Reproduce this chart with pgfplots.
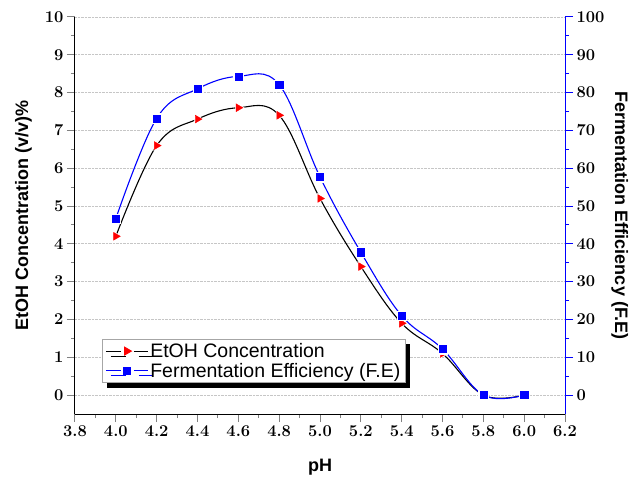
\documentclass[border=0pt]{standalone}
\usepackage{fontspec}
\setsansfont{Liberation Sans}
\usepackage{pgfplots}
\usepackage{pgfplotstable}
\pgfplotsset{compat=1.18}
\usetikzlibrary{shadows}

\newcommand{\tkf}{\fontsize{16.5}{16.5}\selectfont\rmfamily\bfseries}
\newcommand{\lbf}{\fontsize{18}{18}\selectfont\sffamily\bfseries}

\pgfplotstableread{
x y
4.0 4.2
4.2 6.6
4.4 7.3
4.6 7.6
4.8 7.4
5.0 5.2
5.2 3.4
5.4 1.9
5.6 1.1
5.8 0
6.0 0
}\etoh
\pgfplotstableread{
x y
4.0 46.7
4.2 73.2
4.4 81.0
4.6 84.3
4.8 82.1
5.0 57.7
5.2 37.8
5.4 21.0
5.6 12.2
5.8 0
6.0 0
}\fe

\pgfplotsset{
  common/.style={
    scale only axis, width=490pt, height=397pt,
    xmin=3.8, xmax=6.2,
    tick align=outside,
    major tick length=8pt, minor tick length=4pt,
    yticklabel={\tkf\pgfmathprintnumber[assume math mode=true]{\tick}},
    axis line style={-, line width=1pt},
    every tick/.append style={line width=1pt},
  },
}

\begin{document}
\begin{tikzpicture}
\begin{axis}[common, name=ax,
  ymin=-0.5, ymax=10,
  axis x line*=bottom, axis y line*=left,
  xtick={3.8,4.0,4.2,4.4,4.6,4.8,5.0,5.2,5.4,5.6,5.8,6.0,6.2},
  xticklabel={\tkf\pgfmathprintnumber[assume math mode=true,fixed,fixed zerofill,precision=1]{\tick}},
  ytick={0,1,...,10},
  minor x tick num=1, minor y tick num=1,
  ymajorgrids, grid style={densely dotted, gray!45, line width=0.8pt},
  xlabel={\lbf pH},
  ylabel={\lbf EtOH Concentration (v/v)\%},
  xlabel style={at={(axis description cs:0.5,-0.1335)}, anchor=center},
  ylabel style={at={(axis description cs:-0.105,0.5)}, anchor=center},
]
\addplot[black, line width=1.1pt, smooth, tension=0.62] table {\etoh};
\addplot[only marks, mark=triangle*, mark size=5.8pt, mark options={white, fill=white, rotate=-90}] table {\etoh};
\addplot[only marks, mark=triangle*, mark size=4.5pt, mark options={red, fill=red, rotate=-90}] table {\etoh};
\end{axis}

\begin{axis}[common,
  ymin=-5, ymax=100,
  axis x line=none, axis y line*=right,
  ytick={0,10,...,100},
  minor y tick num=1,
  y axis line style={blue},
  ytick style={blue},
  ylabel={\lbf Fermentation Efficiency (F.E)},
  ylabel style={at={(axis description cs:1.112,0.5)}, anchor=center, rotate=180},
  legend style={at={(axis description cs:0.0551,0.189)}, anchor=north west,
    draw=gray!70, fill=white, line width=0.6pt,
    drop shadow={shadow xshift=5pt, shadow yshift=-5pt, fill=black, opacity=1},
    font=\fontsize{19.5}{19.5}\selectfont\sffamily,
    row sep=0pt, inner ysep=2pt, inner xsep=3pt,
    nodes={inner sep=2pt}},
  legend cell align=left,
  legend image code/.code={
    \draw[#1, mark=none] (0pt,0pt) -- (15pt,0pt) (28pt,0pt) -- (42pt,0pt);
    \draw[#1] plot coordinates {(21pt,0pt)};
  },
]
\addlegendimage{black, line width=1pt, mark=triangle*, mark size=4.5pt, mark options={red, fill=red, rotate=-90}}
\addlegendentry{EtOH Concentration}
\addplot[blue, line width=1.1pt, smooth, tension=0.62, forget plot] table {\fe};
\addplot[only marks, mark=square*, mark size=4.8pt, mark options={white, fill=white}, forget plot] table {\fe};
\addplot[only marks, mark=square*, mark size=3.6pt, mark options={blue, fill=blue}, forget plot] table {\fe};
\addlegendimage{blue, line width=1pt, mark=square*, mark size=3.6pt, mark options={blue, fill=blue}}
\addlegendentry{Fermentation Efficiency (F.E)}
\end{axis}
\pgfresetboundingbox
\path ([shift={(-75pt,-66pt)}]ax.south west) rectangle ([shift={(64pt,17pt)}]ax.north east);
\end{tikzpicture}
\end{document}
